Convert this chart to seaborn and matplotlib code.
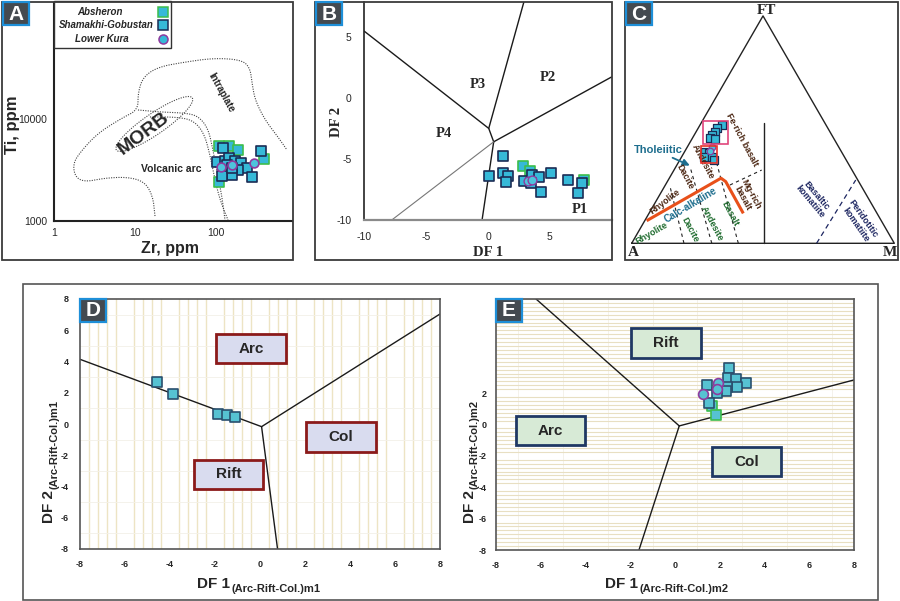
import numpy as np
import matplotlib
matplotlib.use("Agg")
import matplotlib.pyplot as plt
from matplotlib.patches import Rectangle
from matplotlib.lines import Line2D
from matplotlib.ticker import MultipleLocator
import seaborn as sns

sns.set_style("white")
plt.rcParams['font.family'] = ['Liberation Sans', 'DejaVu Sans']
plt.rcParams['axes.unicode_minus'] = False

W, H = 900, 601

# ---------------- data ----------------
# A: Ti-Zr (ppm)
a_abs_zr = [109, 143, 184, 388, 108]
a_abs_ti = [5495, 5495, 4980, 4030, 2390]
a_sg_zr = [122, 353, 103, 128, 145, 170, 202, 241, 185, 155, 119, 274, 134, 155]
a_sg_ti = [5180, 4900, 3820, 3880, 4180, 3910, 3730, 3310, 3160, 2800, 2760, 2720, 3540, 3290]
a_lk_zr = [113, 158, 295]
a_lk_ti = [3410, 3540, 3730]

# A: field boundaries (log10 Zr, log10 Ti)
outer_lzr = [1.243, 1.219, 1.120, 0.910, 0.626, 0.379, 0.256, 0.231, 0.342, 0.540, 0.836, 1.033,
             1.033, 1.095, 1.280, 1.614, 1.984, 2.317, 2.416, 2.441, 2.478, 2.601, 2.762, 2.873]
outer_lti = [3.046, 3.234, 3.382, 3.431, 3.421, 3.382, 3.431, 3.569, 3.697, 3.865, 4.013, 4.092,
             4.259, 4.417, 4.516, 4.565, 4.605, 4.585, 4.506, 4.358, 4.190, 3.993, 3.825, 3.697]
arc1_lzr = [1.033, 1.305, 1.614, 1.774, 1.898, 1.959, 2.021, 2.070, 2.107]
arc1_lti = [4.092, 4.072, 4.062, 4.033, 3.914, 3.697, 3.431, 3.234, 3.007]
arc2_lzr = [1.181, 1.490, 1.712, 1.848, 1.922, 1.984, 2.046, 2.144]
arc2_lti = [4.023, 4.023, 3.993, 3.865, 3.648, 3.401, 3.204, 3.007]
morb_center = [1.235, 3.954]
morb_axis1 = [0.468, 0.257]
morb_axis2 = [0.0736, -0.0852]

# B: DF1 / DF2
b_sg_x = [1.19, 0.06, 1.19, 1.63, 1.49, 2.9, 3.58, 4.11, 5.06, 3.5, 4.3, 6.46, 7.63, 7.27]
b_sg_y = [-4.75, -6.37, -6.12, -6.37, -6.86, -6.78, -6.31, -6.45, -6.17, -7.0, -7.68, -6.7, -7.0, -7.76]
b_abs_x = [2.84, 3.43, 7.76]
b_abs_y = [-5.57, -5.96, -6.72]
b_lk_x = [3.25, 3.58]
b_lk_y = [-6.8, -6.72]
b_lines = [([-10, 0.06, 0.46], [5.5, -2.48, -3.58]),
           ([0.06, 2.9], [-2.48, 7.9]),
           ([0.46, 10], [-3.58, 1.75]),
           ([0.46, -0.48], [-3.58, -10])]
b_thin_line = ([0.46, -7.78], [-3.58, -10])
b_fields = ["P1", "P2", "P3", "P4"]
b_field_x = [7.43, 4.84, -0.86, -3.57]
b_field_y = [-9.1, 1.66, 1.15, -2.9]

# C: AFM (fractions FT, M)
c_sg_ft = [0.520, 0.506, 0.491, 0.476, 0.462, 0.457, 0.403, 0.396, 0.381, 0.381, 0.366]
c_sg_m = [0.083, 0.071, 0.072, 0.069, 0.067, 0.089, 0.078, 0.096, 0.086, 0.114, 0.132]
c_lk_ft = [0.425, 0.407]
c_lk_m = [0.093, 0.095]

# D: m1
d_sg_x = [-4.59, -3.85, -1.85, -1.48, -1.11]
d_sg_y = [2.67, 1.94, 0.66, 0.58, 0.45]
d_lines = [([-8, 0.07], [4.14, -0.17]), ([0.07, 8], [-0.17, 7.04]), ([0.07, 0.78], [-0.17, -8])]
d_fields = ["Arc", "Col", "Rift"]
d_field_x = [-0.4, 3.6, -1.4]
d_field_y = [4.83, -0.83, -3.21]

# E: m2
e_sg_x = [2.41, 2.35, 2.71, 3.16, 2.76, 2.34, 2.28, 1.42, 1.86, 1.5]
e_sg_y = [3.62, 2.94, 2.9, 2.63, 2.41, 2.39, 2.14, 2.5, 2.03, 1.37]
e_abs_x = [1.64, 1.82]
e_abs_y = [1.2, 0.59]
e_lk_x = [1.94, 1.86, 1.27]
e_lk_y = [2.63, 2.29, 1.92]
e_lines = [([-6.21, 0.19], [8, -0.09]), ([0.19, 8], [-0.09, 2.84]), ([0.19, -1.61], [-0.09, -8])]
e_fields = ["Rift", "Arc", "Col"]
e_field_x = [-0.4, -5.56, 3.2]
e_field_y = [5.2, -0.4, -2.37]

# ---------------- styles ----------------
CYAN = '#36b9d8'
NAVY = '#1b2c55'
GREEN = '#3dbd4c'
PURPLE = '#8e3b9f'
TEAL = '#1e6e8e'
BROWN = '#4a2511'
DGREEN = '#1e6b2e'
DNAVY = '#1c2560'


def rect(x0, y0, x1, y1):
    return [x0 / W, 1 - y1 / H, (x1 - x0) / W, (y1 - y0) / H]


def fxy(x, y):
    return x / W, 1 - y / H


def chaikin(x, y, n=3):
    pts = np.column_stack([x, y])
    for _ in range(n):
        q = 0.75 * pts[:-1] + 0.25 * pts[1:]
        r = 0.25 * pts[:-1] + 0.75 * pts[1:]
        new = np.empty((len(q) * 2, 2))
        new[0::2] = q
        new[1::2] = r
        pts = np.vstack([pts[:1], new, pts[-1:]])
    return pts[:, 0], pts[:, 1]


def scat(ax, x, y, marker, s, fc, ec, lw=1.0, z=3):
    sns.scatterplot(x=x, y=y, marker=marker, s=s, color=fc, edgecolor=ec,
                    linewidth=lw, ax=ax, zorder=z, legend=False)


def frame(x0, y0, x1, y1, lw=1.3, ec='#3a3a3a'):
    fig.add_artist(Rectangle(fxy(x0, y1), (x1 - x0) / W, (y1 - y0) / H, transform=fig.transFigure,
                             fill=False, ec=ec, lw=lw, zorder=5))


def letter(x0, y0, ch):
    fig.add_artist(Rectangle(fxy(x0, y0 + 23), 26 / W, 23 / H, transform=fig.transFigure,
                             fc='#444a50', ec='#1e8fd8', lw=1.6, zorder=6))
    fig.text(*fxy(x0 + 13, y0 + 12), ch, color='white', fontsize=15, fontweight='bold',
             ha='center', va='center', zorder=7)


fig = plt.figure(figsize=(9, 6.01), dpi=100)

# ================= A =================
ax = fig.add_axes(rect(54.3, 3, 292.3, 220.7))
ax.set_xscale('log')
ax.set_yscale('log')
ax.set_xlim(1, 10 ** 2.938)
ax.set_ylim(1000, 10 ** 5.147)
dot = dict(ls=(0, (1, 1.2)), color='#444444', lw=0.8)
for lx, ly in [(outer_lzr, outer_lti), (arc1_lzr, arc1_lti), (arc2_lzr, arc2_lti)]:
    sx, sy = chaikin(lx, ly)
    ax.plot(10 ** sx, 10 ** sy, **dot)
t = np.linspace(0, 2 * np.pi, 120)
ex = morb_center[0] + np.cos(t) * morb_axis1[0] + np.sin(t) * morb_axis2[0]
ey = morb_center[1] + np.cos(t) * morb_axis1[1] + np.sin(t) * morb_axis2[1]
ax.plot(10 ** ex, 10 ** ey, **dot)
scat(ax, a_abs_zr, a_abs_ti, 's', 45, CYAN, GREEN, 1.2)
scat(ax, a_sg_zr, a_sg_ti, 's', 45, CYAN, NAVY, 1.2)
scat(ax, a_lk_zr, a_lk_ti, 'o', 40, '#4ec4dc', PURPLE, 1.2)
ax.text(12.8, 7280, 'MORB', rotation=37, fontsize=14, fontweight='bold', ha='center', va='center')
ax.text(116.6, 18300, 'Intraplate', rotation=-61, fontsize=7, fontweight='bold', ha='center', va='center')
ax.text(28.1, 3210, 'Volcanic arc', fontsize=7.5, fontweight='bold', ha='center', va='center')
ax.set_xticks([1, 10, 100])
ax.set_xticklabels(['1', '10', '100'])
ax.set_yticks([1000, 10000])
ax.set_yticklabels(['1000', '10000'])
ax.minorticks_off()
ax.tick_params(length=0, labelsize=7.5, pad=5)
ax.set_xlabel('')
ax.set_ylabel('')
for s in ['top', 'right']:
    ax.spines[s].set_visible(False)
for s in ['left', 'bottom']:
    ax.spines[s].set_color('#222222')
    ax.spines[s].set_linewidth(1.5)
fig.text(*fxy(12, 125), 'Ti, ppm', rotation=90, fontsize=12, fontweight='bold', ha='center', va='center')
fig.text(*fxy(170, 248), 'Zr, ppm', fontsize=11.5, fontweight='bold', ha='center', va='center')
# legend box
fig.add_artist(Rectangle(fxy(54, 48), 117 / W, 47 / H, transform=fig.transFigure,
                         fc='white', ec='#333333', lw=1.0, zorder=5))
for lab, cx, cy, mk, mec in [('Absheron', 100, 11.7, 's', GREEN),
                             ('Shamakhi-Gobustan', 106, 24.7, 's', NAVY),
                             ('Lower Kura', 101.5, 39.3, 'o', PURPLE)]:
    fig.text(*fxy(cx, cy), lab, fontsize=7, fontweight='bold', style='italic',
             ha='center', va='center', zorder=6)
    fig.add_artist(Line2D([163.3 / W], [1 - cy / H], marker=mk, ms=6.5, mfc=CYAN, mec=mec, mew=1.1,
                          ls='none', transform=fig.transFigure, zorder=6))
frame(2, 2, 293, 260)
letter(3, 2, 'A')

# ================= B =================
ax = fig.add_axes(rect(364.3, 2, 611.7, 220))
ax.set_xlim(-10, 10)
ax.set_ylim(-10, 7.9)
for lx, ly in b_lines:
    ax.plot(lx, ly, color='#1a1a1a', lw=1.0)
ax.plot(*b_thin_line, color='#777777', lw=0.8)
scat(ax, b_abs_x, b_abs_y, 's', 42, CYAN, GREEN, 1.2)
scat(ax, b_sg_x, b_sg_y, 's', 42, CYAN, NAVY, 1.2)
scat(ax, b_lk_x, b_lk_y, 'o', 40, '#4ec4dc', PURPLE, 1.0)
for lab, x, y in zip(b_fields, b_field_x, b_field_y):
    ax.text(x, y, lab, fontsize=10.5, fontweight='bold', family='Liberation Serif', ha='center', va='center')
ax.set_xticks([-10, -5, 0, 5])
ax.set_yticks([-10, -5, 0, 5])
ax.tick_params(length=0, labelsize=7.5, pad=9)
ax.set_xlabel('')
ax.set_ylabel('')
for s in ['top', 'right']:
    ax.spines[s].set_visible(False)
ax.spines['left'].set_color('#222222')
ax.spines['left'].set_linewidth(1.2)
ax.spines['bottom'].set_color('#8a8a8a')
ax.spines['bottom'].set_linewidth(1.6)
fig.text(*fxy(488, 252), 'DF 1', fontsize=10.5, fontweight='bold', family='Liberation Serif', ha='center', va='center')
fig.text(*fxy(336, 122), 'DF 2', rotation=90, fontsize=10.5, fontweight='bold', family='Liberation Serif',
         ha='center', va='center')
frame(315, 2, 612, 260)
letter(316, 2, 'B')

# ================= C =================
ax = fig.add_axes(rect(625, 2, 898, 260))
ax.set_xlim(-0.0255, 1.014)
ax.set_ylim(-0.0636, 0.919)
ax.axis('off')
r3 = np.sqrt(3) / 2
ax.plot([0, 1, 0.5, 0], [0, 0, r3, 0], color='#222222', lw=1.0)
ax.plot([0.505, 0.505], [0, 0.457], color='#222222', lw=1.0)
ax.plot([0.704, 0.853], [0, 0.241], color=DNAVY, lw=0.9, ls=(0, (4, 3)))
for lx, ly in [([0.199, 0.146], [0, 0.216]), ([0.305, 0.222], [0, 0.292]),
               ([0.406, 0.317], [0, 0.330]), ([0.374, 0.495], [0.222, 0.279])]:
    ax.plot(lx, ly, color='#222222', lw=0.8, ls=(0, (3, 3)))
ax.plot([0.057, 0.340, 0.358, 0.425], [0.086, 0.248, 0.235, 0.114], color='#e8501a', lw=2.2,
        solid_capstyle='butt', solid_joinstyle='round')
cx = np.array(c_sg_m) + np.array(c_sg_ft) / 2
cy = np.array(c_sg_ft) * r3
scat(ax, cx, cy, 's', 28, CYAN, NAVY, 0.9)
lx = np.array(c_lk_m) + np.array(c_lk_ft) / 2
ly = np.array(c_lk_ft) * r3
scat(ax, lx, ly, 'o', 22, '#4ec4dc', PURPLE, 0.9)
ax.add_patch(Rectangle((0.272, 0.380), 0.093, 0.087, fill=False, ec='#e0457b', lw=1.2, zorder=4))
ax.add_patch(Rectangle((0.263, 0.305), 0.063, 0.067, fill=False, ec='#e8322a', lw=1.2, zorder=4))
ax.annotate('', xy=(0.231, 0.292), xytext=(0.146, 0.330),
            arrowprops=dict(arrowstyle='-|>', color=TEAL, lw=1.3, mutation_scale=10))
ax.text(0.101, 0.355, 'Tholeiitic', color=TEAL, fontsize=8, fontweight='bold', ha='center', va='center')
ax.text(0.225, 0.147, 'Calc-alkaline', color=TEAL, fontsize=7, fontweight='bold', rotation=31,
        ha='center', va='center')
for lab, x, y, rot, col in [('Rhyolite', 0.127, 0.158, 37, BROWN),
                            ('Dacite', 0.203, 0.254, -62, BROWN),
                            ('Andesite', 0.273, 0.311, -62, BROWN),
                            ('Fe-rich basalt', 0.419, 0.393, -62, BROWN),
                            ('Mg-rich\nbasalt', 0.438, 0.178, -62, BROWN),
                            ('Rhyolite', 0.076, 0.038, 30, DGREEN),
                            ('Dacite', 0.222, 0.051, -62, DGREEN),
                            ('Andesite', 0.305, 0.076, -62, DGREEN),
                            ('Basalt', 0.374, 0.114, -62, DGREEN),
                            ('Basaltic\nkomatiite', 0.692, 0.171, -50, DNAVY),
                            ('Peridotitic\nkomatiite', 0.869, 0.082, -55, DNAVY)]:
    ax.text(x, y, lab, color=col, fontsize=6.5, fontweight='bold', rotation=rot, ha='center', va='center',
            linespacing=1.0)
ax.text(0.514, 0.888, 'FT', fontsize=11, fontweight='bold', family='Liberation Serif', ha='center', va='center')
ax.text(0.006, -0.034, 'A', fontsize=11, fontweight='bold', family='Liberation Serif', ha='center', va='center')
ax.text(0.984, -0.034, 'M', fontsize=11, fontweight='bold', family='Liberation Serif', ha='center', va='center')
frame(625, 2, 898, 260)
letter(626, 2, 'C')

# ================= D & E =================
frame(23, 284, 878, 600, lw=1.2, ec='#555555')


def df_axes(rc, vertical):
    ax = fig.add_axes(rc)
    ax.set_xlim(-8, 8)
    ax.set_ylim(-8, 8)
    ax.set_xticks(range(-8, 9, 2))
    ax.set_yticks(range(-8, 9, 2))
    if vertical:
        ax.xaxis.set_minor_locator(MultipleLocator(0.4))
        ax.yaxis.set_minor_locator(MultipleLocator(1))
        ax.grid(which='minor', axis='x', color='#ede4c4', lw=1.0)
        ax.grid(which='minor', axis='y', color='#f3f0e8', lw=0.6)
    else:
        ax.yaxis.set_minor_locator(MultipleLocator(0.25))
        ax.xaxis.set_minor_locator(MultipleLocator(1))
        ax.grid(which='minor', axis='y', color='#e8dfc2', lw=0.8)
        ax.grid(which='minor', axis='x', color='#f3f0e8', lw=0.6)
    ax.grid(which='major', visible=False)
    ax.set_axisbelow(True)
    ax.tick_params(which='both', length=0, labelsize=6.5, pad=8)
    for lab in ax.get_xticklabels() + ax.get_yticklabels():
        lab.set_fontweight('bold')
    for s in ax.spines.values():
        s.set_color('#555555')
        s.set_linewidth(1.2)
    return ax


def field_box(ax, x, y, lab, fc, ec):
    ax.add_patch(Rectangle((x - 1.55, y - 0.93), 3.1, 1.86, fc=fc, ec=ec, lw=2.0, zorder=4))
    ax.text(x, y, lab, fontsize=11, fontweight='bold', ha='center', va='center', zorder=5)


# D
ax = df_axes(rect(80, 299, 440, 549), True)
for lx, ly in d_lines:
    ax.plot(lx, ly, color='#1a1a1a', lw=1.0)
for lab, x, y in zip(d_fields, d_field_x, d_field_y):
    field_box(ax, x, y, lab, '#d9dcef', '#8b1a1a')
scat(ax, d_sg_x, d_sg_y, 's', 60, '#56c2d2', '#2a4f6e', 1.2, z=6)
ax.set_xlabel('')
ax.set_ylabel('')
letter(80, 299, 'D')
fig.text(*fxy(229.7, 587.7), 'DF 1', fontsize=11, fontweight='bold', ha='right', va='baseline')
fig.text(*fxy(231, 591.5), '(Arc-Rift-Col.)m1', fontsize=8, fontweight='bold', ha='left', va='baseline')
fig.text(*fxy(53.3, 490), 'DF 2', rotation=90, rotation_mode='anchor', fontsize=11, fontweight='bold',
         ha='right', va='baseline')
fig.text(*fxy(58, 489), '(Arc-Rift-Col.)m1', rotation=90, rotation_mode='anchor', fontsize=8,
         fontweight='bold', ha='left', va='baseline')

# E
ax = df_axes(rect(496, 299, 854, 550), False)
ax.set_yticks([-8, -6, -4, -2, 0, 2])
for lab in ax.get_yticklabels():
    lab.set_fontweight('bold')
ax.tick_params(axis='y', pad=7)
for lx, ly in e_lines:
    ax.plot(lx, ly, color='#1a1a1a', lw=1.0)
for lab, x, y in zip(e_fields, e_field_x, e_field_y):
    field_box(ax, x, y, lab, '#d7ead6', '#1f3864')
scat(ax, e_abs_x, e_abs_y, 's', 55, '#56c2d2', GREEN, 1.2, z=6)
scat(ax, e_sg_x, e_sg_y, 's', 55, '#56c2d2', '#2a4f6e', 1.2, z=6)
scat(ax, e_lk_x, e_lk_y, 'o', 50, '#56c2d2', PURPLE, 1.2, z=7)
ax.set_xlabel('')
ax.set_ylabel('')
letter(496, 299, 'E')
fig.text(*fxy(638, 587.7), 'DF 1', fontsize=11, fontweight='bold', ha='right', va='baseline')
fig.text(*fxy(639.5, 591.5), '(Arc-Rift-Col.)m2', fontsize=8, fontweight='bold', ha='left', va='baseline')
fig.text(*fxy(474, 490), 'DF 2', rotation=90, rotation_mode='anchor', fontsize=11, fontweight='bold',
         ha='right', va='baseline')
fig.text(*fxy(477.5, 489), '(Arc-Rift-Col.)m2', rotation=90, rotation_mode='anchor', fontsize=8,
         fontweight='bold', ha='left', va='baseline')

fig.savefig('out.png', dpi=100)
